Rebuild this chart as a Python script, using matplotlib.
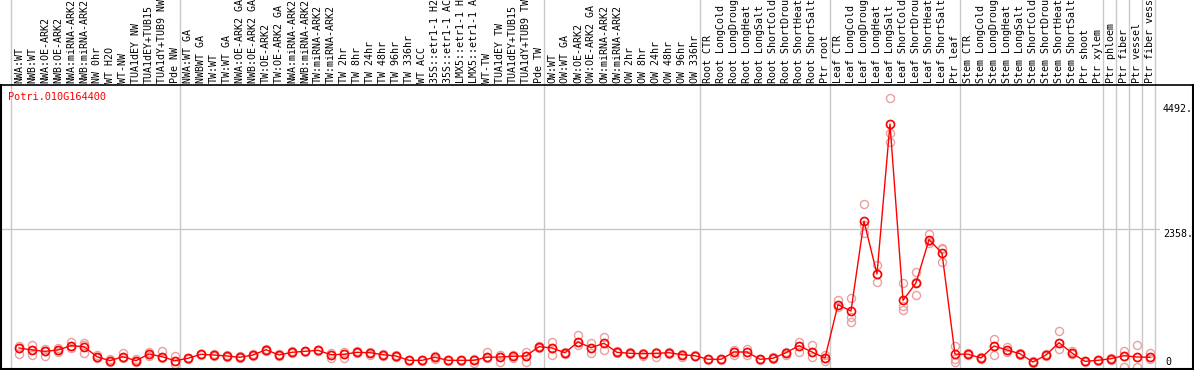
import matplotlib
matplotlib.use("Agg")
import matplotlib.pyplot as plt
from matplotlib.transforms import blended_transform_factory
from matplotlib.lines import Line2D

gene = "Potri.010G164400"

categories = [
    "NWA:WT", "NWB:WT", "NWA:OE-ARK2", "NWB:OE-ARK2", "NWA:miRNA-ARK2", "NWB:miRNA-ARK2",
    "NW 0hr", "WT H2O", "WT-NW", "TUA1dEY NW", "TUA1dEY+TUB15", "TUA1dY+TUB9 NW", "Pde NW",
    "NWA:WT GA", "NWBWT GA", "TW:WT", "TW:WT GA", "NWA:OE-ARK2 GA", "NWB:OE-ARK2 GA",
    "TW:OE-ARK2", "TW:OE-ARK2 GA", "NWA:miRNA-ARK2", "NWB:miRNA-ARK2", "TW:miRNA-ARK2",
    "TW:miRNA-ARK2", "TW 2hr", "TW 8hr", "TW 24hr", "TW 48hr", "TW 96hr", "TW 336hr",
    "WT ACC", "35S::etr1-1 H2", "35S::etr1-1 AC", "LMX5::etr1-1 H", "LMX5::etr1-1 A",
    "WT-TW", "TUA1dEY TW", "TUA1dEY+TUB15", "TUA1dY+TUB9 TW", "Pde TW",
    "OW:WT", "OW:WT GA", "OW:OE-ARK2", "OW:OE-ARK2 GA", "OW:miRNA-ARK2", "OW:miRNA-ARK2",
    "OW 2hr", "OW 8hr", "OW 24hr", "OW 48hr", "OW 96hr", "OW 336hr",
    "Root CTR", "Root LongCold", "Root LongDroug", "Root LongHeat", "Root LongSalt",
    "Root ShortCold", "Root ShortDrou", "Root ShortHeat", "Root ShortSalt", "Ptr root",
    "Leaf CTR", "Leaf LongCold", "Leaf LongDroug", "Leaf LongHeat", "Leaf LongSalt",
    "Leaf ShortCold", "Leaf ShortDrou", "Leaf ShortHeat", "Leaf ShortSalt", "Ptr leaf",
    "Stem CTR", "Stem LongCold", "Stem LongDroug", "Stem LongHeat", "Stem LongSalt",
    "Stem ShortCold", "Stem ShortDrou", "Stem ShortHeat", "Stem ShortSalt", "Ptr shoot",
    "Ptr xylem", "Ptr phloem", "Ptr fiber", "Ptr vessel", "Ptr fiber vess",
]

means = [
    325, 290, 268, 290, 364, 347, 176, 108, 176, 108, 222, 176, 108,
    149, 217, 205, 188, 166, 205, 295, 205, 251, 268, 285, 210, 217, 251, 244,
    210, 188, 114, 114, 166, 114, 114, 114, 166, 171, 183, 188, 347,
    325, 244, 427, 330, 405, 251, 234, 227, 234, 244, 210, 193,
    132, 132, 256, 256, 132, 149, 244, 364, 256, 154,
    1064, 956, 2489, 1588, 4150, 1139, 1435, 2174, 1947, 219,
    219, 154, 359, 290, 227, 85, 205, 415, 239, 97, 114,
    142, 193, 171, 166,
]

replicates = [
    [359, 222, 325], [381, 210, 290], [302, 188, 273], [319, 261, 290], [432, 319, 359],
    [405, 244, 376], [205, 149, 171], [132, 91, 108], [234, 149, 176], [132, 91, 108],
    [261, 188, 222], [278, 149, 176], [188, 51, 108], [160, 135, 149], [230, 205, 217],
    [215, 195, 205], [200, 175, 188], [180, 150, 166], [215, 190, 205], [310, 280, 295],
    [215, 195, 205], [265, 240, 251], [280, 255, 268], [295, 275, 285], [244, 149, 210],
    [251, 149, 217], [265, 240, 251], [261, 210, 244], [225, 195, 210], [200, 175, 188],
    [125, 100, 114], [125, 100, 114], [190, 140, 166], [125, 100, 114], [125, 100, 114],
    [130, 68, 114], [261, 150, 166], [200, 91, 171], [210, 150, 183], [251, 91, 188],
    [365, 330, 347], [432, 205, 325], [260, 225, 244], [547, 376, 427], [415, 234, 330],
    [518, 290, 405], [265, 235, 251], [250, 220, 234], [240, 193, 227], [250, 176, 234],
    [260, 230, 244], [225, 176, 210], [210, 180, 193], [145, 120, 132], [145, 120, 132],
    [290, 205, 256], [300, 200, 256], [145, 120, 132], [165, 135, 149], [261, 205, 244],
    [422, 261, 364], [376, 166, 256], [205, 108, 154],
    [1150, 1025, 1064], [1178, 859, 774], [2784, 2426, 2289], [1742, 1452, 1588],
    [4594, 3996, 3843], [1435, 1042, 974], [1623, 1230, 1452], [2272, 2118, 2150],
    [2033, 1793, 2015], [359, 132, 91],
    [240, 200, 219], [170, 140, 154], [473, 205, 359], [340, 260, 290], [240, 210, 227],
    [110, 60, 85], [220, 190, 205], [615, 302, 415], [270, 220, 239], [110, 80, 97],
    [125, 100, 114], [160, 120, 142], [273, 5, 193], [376, 0, 171], [234, 132, 166],
]

# last index of each group (vertical separators drawn after these)
group_ends = [-1, 12, 40, 52, 62, 72, 83, 84, 85, 86, 87]
y_ticks = [0, 2358, 4492]

W, H = 1194, 370
fig = plt.figure(figsize=(W / 100, H / 100), dpi=100)
fig.patch.set_facecolor("white")

ax_left, ax_right, ax_top, ax_bot = 0, 1160, 85, 368
ax = fig.add_axes([ax_left / W, 1 - ax_bot / H, (ax_right - ax_left) / W, (ax_bot - ax_top) / H])
n = len(categories)
ax.set_xlim(-1.46, 87.77)
ax.set_ylim(-17, 4816)
for s in ax.spines.values():
    s.set_visible(False)
ax.set_xticks([])
ax.set_yticks([])
ax.patch.set_alpha(0)

xs = list(range(n))
mono = "DejaVu Sans Mono"

ax.axhline(y_ticks[1], color="#c8c8c8", lw=1, zorder=0)

bt = blended_transform_factory(ax.transData, fig.transFigure)
for g in group_ends:
    xv = g + 0.42 if g >= 0 else -0.65
    fig.add_artist(Line2D([xv, xv], [0, 1], transform=bt, color="#c8c8c8", lw=1, zorder=0))

for i, reps in enumerate(replicates):
    ax.plot([i] * len(reps), reps, linestyle="none", marker="o", ms=5.8, mfc="none",
            mec="#eaa0a0", mew=1.0, zorder=2, clip_on=False)

ax.plot(xs, means, color="#ff0000", lw=1.0, zorder=3, clip_on=False)
ax.plot(xs, means, linestyle="none", marker="o", ms=5.8, mfc="none", mec="#ff0000",
        mew=1.2, zorder=4, clip_on=False)

for i, lab in enumerate(categories):
    ax.text(i, 1 - 83 / H, lab, transform=bt, rotation=90, ha="center", va="bottom",
            fontsize=7.2, family=mono, color="black", clip_on=False)

fig.text(8 / W, 1 - 97 / H, gene, color="#ff0000", fontsize=7.4, family=mono, va="center", ha="left")

bty = blended_transform_factory(fig.transFigure, ax.transData)
for v in y_ticks:
    lab = "0" if v == 0 else f"{v}."
    xpos = 1165 / W if v == 0 else 1163 / W
    ax.text(xpos, v, lab, transform=bty, fontsize=7.2, family=mono,
            ha="left", va="bottom" if v == 0 else "top", clip_on=False)

k = "black"
top_y = 1 - 85 / H
bot_y = 1 - 368.5 / H
fig.add_artist(Line2D([0, 1], [top_y, top_y], transform=fig.transFigure, color=k, lw=1.2))
fig.add_artist(Line2D([0, 1], [bot_y, bot_y], transform=fig.transFigure, color=k, lw=1.5))
fig.add_artist(Line2D([1 / W, 1 / W], [bot_y, top_y], transform=fig.transFigure, color=k, lw=1.5))
fig.add_artist(Line2D([1193 / W, 1193 / W], [bot_y, top_y], transform=fig.transFigure, color=k, lw=1.5))

fig.savefig("out.png", dpi=100, facecolor="white")
